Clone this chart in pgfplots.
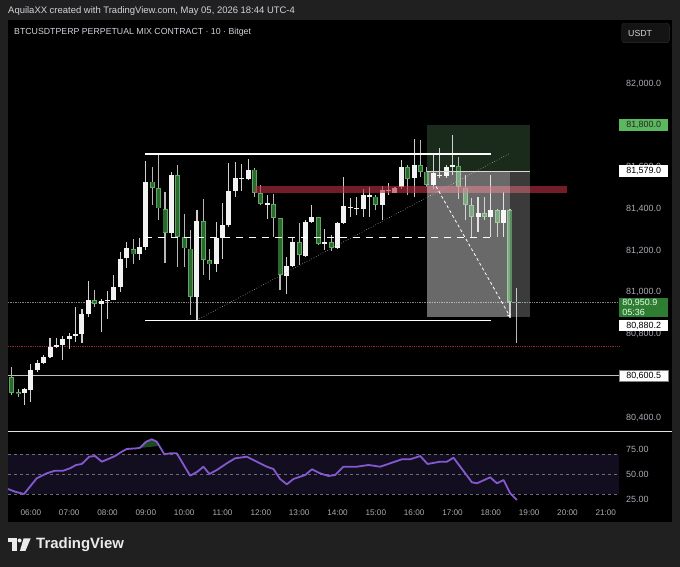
\documentclass[border=0pt]{standalone}
\usepackage{pgfplots}
\pgfplotsset{compat=1.18}
\usepackage{pgfplotstable}
\usepackage{fontspec}
\setmainfont{Liberation Sans}
\usetikzlibrary{arrows.meta}

\definecolor{outerbg}{HTML}{202020}
\definecolor{hdr}{HTML}{D1D4DC}
\definecolor{axtext}{HTML}{A9ACB5}
\definecolor{upbody}{HTML}{F2F2F2}
\definecolor{upwick}{HTML}{D0D0D0}
\definecolor{dnwick}{HTML}{B8B8B8}
\definecolor{dnedge}{HTML}{5FA862}
\definecolor{dnfill}{HTML}{2B6A2F}
\definecolor{zonered}{HTML}{B83040}
\definecolor{reddot}{HTML}{9A2A2A}
\definecolor{stopzone}{HTML}{1B2B1B}
\definecolor{tvgreen}{HTML}{5CB85F}
\definecolor{lastgreen}{HTML}{2E7D32}
\definecolor{rsiline}{HTML}{8459D0}
\definecolor{rsiband}{HTML}{120E1F}
\definecolor{rsidash}{HTML}{6A6D78}
\definecolor{obgreen}{HTML}{1E4A22}
\definecolor{boxfill}{HTML}{141414}
\definecolor{boxedge}{HTML}{2C2C2C}

\newcommand\hdrfont{\fontsize{9.5}{11}\selectfont}
\newcommand\symfont{\fontsize{8.8}{10}\selectfont}
\newcommand\lblfont{\fontsize{9}{10.5}\selectfont}
\newcommand\timefont{\fontsize{8.2}{9}\selectfont}

% 10-minute candles, k = 0 is 05:30
\pgfplotstableread{
k  o     h     l     c
2  80516 80540 80460 80535
3  80532 80657 80476 80628
4  80628 80676 80620 80663
5  80663 80700 80657 80692
6  80692 80784 80684 80740
7  80740 80784 80735 80748
8  80748 80790 80676 80778
9  80778 80803 80727 80792
10 80792 80931 80763 80800
11 80800 80923 80759 80896
12 80896 81054 80883 80966
14 80944 80968 80811 80960
15 80960 81008 80875 80966
16 80966 81083 80963 81027
17 81027 81194 81003 81162
18 81162 81242 81115 81210
20 81183 81258 81154 81218
21 81215 81630 81202 81530
25 81285 81574 81266 81561
29 80979 81394 80867 81341
32 81135 81338 81099 81263
33 81263 81429 81162 81325
34 81325 81620 81311 81485
35 81485 81625 81458 81549
36 81545 81617 81485 81549
37 81545 81641 81541 81589
40 81423 81466 81351 81428
43 81078 81170 80992 81126
44 81126 81266 81122 81242
46 81174 81346 81170 81338
47 81338 81418 81330 81359
49 81234 81306 81202 81242
51 81215 81338 81210 81333
52 81333 81553 81330 81413
53 81405 81450 81362 81411
54 81400 81458 81370 81406
55 81399 81498 81362 81466
56 81460 81506 81362 81466
58 81418 81509 81346 81493
59 81486 81525 81466 81493
60 81478 81506 81474 81501
61 81506 81633 81498 81601
63 81545 81737 81458 81609
66 81514 81666 81498 81570
67 81556 81690 81546 81564
68 81558 81610 81546 81602
69 81600 81753 81562 81610
73 81362 81455 81290 81381
75 81362 81562 81267 81394
77 81334 81482 81267 81394
}\upc

\pgfplotstableread{
k  o     h     l     c
0  80593 80644 80508 80521
1  80521 80540 80500 80515
13 80963 81011 80931 80944
19 81210 81258 81135 81183
22 81530 81598 81418 81498
23 81498 81662 81349 81402
24 81399 81478 81138 81285
26 81561 81609 81122 81266
27 81266 81375 81122 81210
28 81210 81298 80891 80979
30 81341 81445 81083 81154
31 81154 81206 81059 81135
38 81589 81595 81458 81478
39 81474 81514 81418 81423
41 81423 81474 81266 81357
42 81354 81359 81011 81083
45 81242 81330 81131 81178
48 81359 81362 81226 81234
50 81242 81274 81198 81215
57 81458 81466 81394 81418
62 81601 81609 81466 81545
64 81609 81730 81554 81578
65 81578 81602 81506 81514
70 81605 81650 81450 81506
71 81503 81562 81346 81418
72 81418 81450 81267 81362
74 81381 81455 81346 81362
76 81394 81398 81267 81334
78 81394 81398 80876 80955
79 80955 81019 80756 80951
}\dnc

\pgfplotstableread{
k     v
-0.58 35.5
0.52  32.8
1.93  30.5
3.92  46.2
5.48  51.2
6.78  53.8
8.08  53.8
9.13  56.2
10.07 59.5
10.96 60.5
12.15 67.8
13.05 68.5
14.10 62.8
15.13 65.5
16.18 68.5
17.23 72.8
18.01 75.5
19.58 76.2
20.09 76.8
21.03 82.8
21.93 85.2
22.71 82.8
23.90 70.2
24.79 71.2
25.84 71.2
27.93 48.8
29.07 52.8
30.01 57.8
30.95 50.5
32.11 54.5
33.67 61.2
34.97 66.2
36.81 67.8
38.37 62.8
39.94 57.8
40.97 55.5
42.02 45.5
43.07 40.2
44.10 45.5
45.94 49.5
46.99 55.2
48.28 51.2
49.58 48.5
50.63 49.5
51.93 57.8
54.03 57.8
55.85 59.5
57.68 57.8
59.25 61.2
61.08 65.2
62.38 65.2
63.95 68.5
65.09 60.5
67.08 62.8
68.13 62.8
69.16 66.8
72.04 42.2
72.83 41.2
74.91 47.2
75.96 41.2
76.99 44.5
78.03 31.2
79.08 24.5
}\rsi

\pgfplotsset{
  candle/.style 2 args={draw=none, mark=none, forget plot,
    error bars/.cd, y dir=both, y explicit, error mark=none,
    error bar style={draw=#1, line width=#2, solid}},
}

\begin{document}
\begin{tikzpicture}[x=1bp,y=1bp]
\fill[outerbg] (0,0) rectangle (680,567);
\fill[black] (8,45.3) rectangle (672,547);

% header
\node[anchor=west, inner sep=0, text=hdr, font=\hdrfont] at (8,556)
  {AquilaXX created with TradingView.com, May 05, 2026 18:44 UTC-4};

% ---------- price pane ----------
\begin{axis}[
  at={(8bp,135bp)}, anchor=south west, scale only axis,
  width=611bp, height=412bp,
  xmin=-0.58, xmax=95.07, ymin=80331, ymax=82304,
  axis line style={draw=none}, tick style={draw=none},
  xtick=\empty,
  scaled y ticks=false,
  ytick={80400,80600,...,82000},
  yticklabels={{80,400.0},{80,600.0},{80,800.0},{81,000.0},{81,200.0},{81,400.0},{81,600.0},{81,800.0},{82,000.0}},
  yticklabel pos=right,
  yticklabel style={anchor=west, inner sep=0pt, xshift=7bp, font=\lblfont, text=axtext},
  clip=false,
]
% reference lines
\addplot[draw=white!75!black, line width=1.1bp] coordinates {(-0.58,80600.5) (95.07,80600.5)};
\addplot[draw=reddot, densely dotted, line width=0.8bp] coordinates {(-0.58,80740) (95.07,80740)};
\addplot[draw=gray, densely dotted, line width=0.7bp] coordinates {(-0.58,80951) (95.07,80951)};

% stop zone of the position tool (under the candles)
\addplot[fill=stopzone, draw=none] coordinates {(65.0,81579) (81.1,81579) (81.1,81800) (65.0,81800)} -- cycle;

% wicks
\addplot[candle={upwick}{1.1bp}]
  table[x=k, y expr={(\thisrow{h}+\thisrow{l})/2}, y error expr={(\thisrow{h}-\thisrow{l})/2}] {\upc};
\addplot[candle={dnwick}{1.1bp}]
  table[x=k, y expr={(\thisrow{h}+\thisrow{l})/2}, y error expr={(\thisrow{h}-\thisrow{l})/2}] {\dnc};
% bodies
\addplot[candle={upbody}{5bp}]
  table[x=k, y expr={(\thisrow{o}+\thisrow{c})/2}, y error expr={max(abs(\thisrow{o}-\thisrow{c})/2,2.5)}] {\upc};
\addplot[candle={dnedge}{5bp}]
  table[x=k, y expr={(\thisrow{o}+\thisrow{c})/2}, y error expr={max(abs(\thisrow{o}-\thisrow{c})/2,2.5)}] {\dnc};
\addplot[candle={dnfill}{3.2bp}]
  table[x=k, y expr={(\thisrow{o}+\thisrow{c})/2}, y error expr={max(abs(\thisrow{o}-\thisrow{c})/2-4,0.5)}] {\dnc};

% range box and midline
\addplot[draw=white, line width=1.2bp] coordinates {(20.9,81662) (75.1,81662)};
\addplot[draw=white, line width=1.2bp] coordinates {(20.9,80863) (75.1,80863)};
\addplot[draw=white, line width=1.3bp, dash pattern=on 7bp off 6bp] coordinates {(20.9,81263) (75.1,81263)};
% trend line
\addplot[draw=white!70!black, line width=0.6bp, dotted] coordinates {(29.0,80867) (78.0,81666)};

% resistance zone
\addplot[fill=zonered, fill opacity=0.62, draw=none] coordinates {(38.1,81476) (86.9,81476) (86.9,81508) (38.1,81508)} -- cycle;

% target zone of the position tool
\addplot[fill=white, fill opacity=0.23, draw=none] coordinates {(65.0,80880.2) (81.1,80880.2) (81.1,81579) (65.0,81579)} -- cycle;
\addplot[fill=white, fill opacity=0.235, draw=none] coordinates {(65.0,80880.2) (78.0,80880.2) (78.0,81579) (65.0,81579)} -- cycle;
\addplot[draw=white!85!black, line width=0.8bp] coordinates {(65.0,81579) (81.1,81579)};
\addplot[draw=white, line width=0.8bp, dash pattern=on 3bp off 2.5bp, -{To[length=3bp,width=4bp]}] coordinates {(66.0,81530) (78.0,80884)};

% price scale labels
\node[fill=tvgreen, text=black!85, anchor=west, minimum width=49bp, minimum height=11.8bp, inner sep=0, font=\lblfont] at (axis cs:95.07,81800) {81,800.0};
\node[fill=white, text=black, anchor=west, minimum width=49bp, minimum height=12.2bp, inner sep=0, font=\lblfont] at (axis cs:95.07,81579) {81,579.0};
\node[fill=lastgreen, text=white!90!green, anchor=north west, minimum width=49bp, text width=42.6bp, inner xsep=3.2bp, inner ysep=1.2bp, align=left, font=\fontsize{9}{10.3}\selectfont] at (axis cs:95.07,80974) {80,950.9\\05:36};
\node[fill=white, text=black, anchor=west, minimum width=49bp, minimum height=11bp, inner sep=0, font=\lblfont] at (axis cs:95.07,80838.6) {80,880.2};
\node[fill=white, draw=gray, line width=0.4bp, text=black, anchor=west, minimum width=49bp, minimum height=11bp, inner sep=0, font=\lblfont] at (axis cs:95.07,80600.5) {80,600.5};
\end{axis}

% symbol line and currency button
\node[anchor=west, inner sep=0, text=hdr, font=\symfont] at (14,535)
  {BTCUSDTPERP PERPETUAL MIX CONTRACT · 10 · Bitget};
\fill[boxfill, draw=boxedge, rounded corners=2.5bp] (621.7,524.3) rectangle (669.3,543.7);
\node[anchor=west, inner sep=0, text=hdr, font=\symfont] at (628,534) {USDT};

% pane separator
\draw[white!88!black, line width=1.2bp] (8,135.3) -- (672,135.3);

% ---------- RSI pane ----------
\begin{axis}[
  at={(8bp,65bp)}, anchor=south west, scale only axis,
  width=611bp, height=70bp,
  xmin=-0.58, xmax=95.07, ymin=22.5, ymax=92.5,
  axis line style={draw=none}, tick style={draw=none},
  xtick={3,9,...,93},
  xticklabels={06:00,07:00,08:00,09:00,10:00,11:00,12:00,13:00,14:00,15:00,16:00,17:00,18:00,19:00,20:00,21:00},
  xticklabel style={font=\timefont, text=axtext, inner sep=0pt, yshift=-7.5bp},
  ytick={25,50,75},
  yticklabels={25.00,50.00,75.00},
  yticklabel pos=right,
  yticklabel style={anchor=west, inner sep=0pt, xshift=7bp, font=\lblfont, text=axtext},
  clip=false,
]
\addplot[fill=rsiband, draw=none] coordinates {(-0.58,30) (95.07,30) (95.07,70) (-0.58,70)} -- cycle;
\addplot[draw=rsidash, line width=0.6bp, dash pattern=on 3bp off 3bp] coordinates {(-0.58,70) (95.07,70)};
\addplot[draw=rsidash, line width=0.6bp, dash pattern=on 3bp off 3bp] coordinates {(-0.58,50) (95.07,50)};
\addplot[draw=rsidash, line width=0.6bp, dash pattern=on 3bp off 3bp] coordinates {(-0.58,30) (95.07,30)};
\addplot[fill=obgreen, draw=none] coordinates {(19.58,76.2) (20.09,76.8) (21.03,82.8) (21.93,85.2) (22.71,82.8) (23.1,78.6)} -- cycle;
\addplot[draw=rsiline, line width=1.8bp, line join=round] table[x=k, y=v] {\rsi};
\end{axis}

% footer logo
\fill[white!92!black] (8.3,28.7) rectangle (16.5,24.8);
\fill[white!92!black] (12.2,28.7) rectangle (16.5,16);
\fill[white!92!black] (19.6,26.5) circle (2bp);
\fill[white!92!black] (23.6,28.7) -- (30.7,28.7) -- (25.4,16) -- (19.9,16) -- cycle;
\node[anchor=base west, inner sep=0, text=white!92!black, font=\fontsize{15}{17}\selectfont\bfseries] at (36,18) {TradingView};
\end{tikzpicture}
\end{document}
